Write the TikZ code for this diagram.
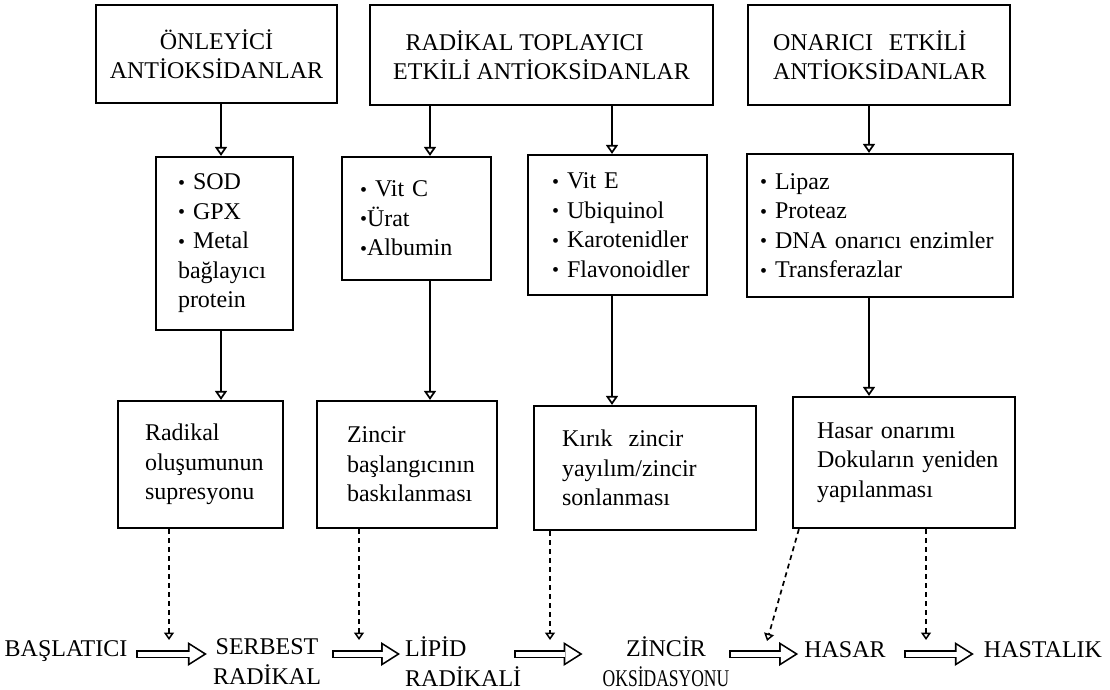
\documentclass[tikz,border=0pt]{standalone}
\usepackage{fontspec}
\setmainfont{Liberation Serif}
\usetikzlibrary{arrows.meta,positioning,calc}

\newcommand{\dotmark}{\raisebox{0.5pt}{\fontsize{20}{20}\selectfont\textbullet}}

\tikzset{
  box/.style={draw, line width=2.2pt, font=\fontsize{24}{29.5}\selectfont},
  listbox/.style={box, align=left, inner ysep=0pt,
    execute at begin node={\hyphenpenalty=10000\relax}},
  feed/.style={line width=2pt, -{Triangle[open, length=9pt, width=12pt, line width=1.7pt]}},
  hint/.style={line width=1.7pt, dash pattern=on 5pt off 4pt, -{Triangle[open, length=7.5pt, width=10pt, line width=1.5pt]}},
  hollow/.style={line width=8.5pt, -{Triangle[length=19pt, width=24pt, line width=0pt]},
    postaction={draw=white, line width=5pt, shorten <=1.7pt, shorten >=3.2pt,
      -{Triangle[length=14pt, width=17.8pt, line width=0pt]}}},
  rowtext/.style={font=\fontsize{24}{30}\selectfont, inner sep=0pt, align=center}
}

\begin{document}
\begin{tikzpicture}[x=1pt, y=-1pt]
  \useasboundingbox (0,0) rectangle (1110,690);

  % antioxidant groups
  \node[box, align=center, minimum width=241pt, minimum height=98pt] (prev) at (216.5,54) {ÖNLEYİCİ\\ANTİOKSİDANLAR};
  \node[box, align=center, minimum width=343pt, minimum height=100pt] (scav) at (541.5,55) {RADİKAL TOPLAYICI\hspace*{34pt}\\ETKİLİ ANTİOKSİDANLAR};
  \node[box, align=left, text width=212pt, inner xsep=25pt, minimum height=100pt] (repair) at (879,55) {ONARICI\ \ ETKİLİ\\ANTİOKSİDANLAR};

  % members
  \node[listbox, text width=93pt, inner xsep=22pt, minimum height=173pt] (enz) at (224.5,243.5) {\dotmark~SOD\\\dotmark~GPX\\\dotmark~Metal\\bağlayıcı\\protein};
  \node[listbox, text width=113pt, inner xsep=18pt, minimum height=123pt] (hydro) at (416.5,218.5) {\dotmark~Vit~C\\\dotmark Ürat\\\dotmark Albumin};
  \node[listbox, text width=131pt, inner xsep=24pt, minimum height=140pt] (lipo) at (617.5,225) {\dotmark~Vit~E\\\dotmark~Ubiquinol\\\dotmark~Karotenidler\\\dotmark~Flavonoidler};
  \node[listbox, text width=240pt, inner xsep=13pt, minimum height=143pt] (enzrep) at (880,225.5) {\dotmark~Lipaz\\\dotmark~Proteaz\\\dotmark~DNA~onarıcı~enzimler\\\dotmark~Transferazlar};

  % effects
  \node[listbox, text width=111pt, inner xsep=27pt, minimum height=127pt] (supp) at (200.5,464.5) {Radikal\\oluşumunun\\supresyonu};
  \node[listbox, text width=120pt, inner xsep=30pt, minimum height=127pt] (inhib) at (407,464.5) {Zincir\\başlangıcının\\baskılanması};
  \node[listbox, text width=166pt, inner xsep=28pt, minimum height=124pt] (brk) at (645,468) {Kırık\ \ zincir\\yayılım/zincir\\sonlanması};
  \node[listbox, text width=174pt, inner xsep=24pt, minimum height=131pt] (heal) at (904,462.5) {Hasar~onarımı\\Dokuların~yeniden\\yapılanması};

  % chain of events
  \coordinate (row) at (0,654);
  \node[rowtext] (ini) at (66,651) {BAŞLATICI};
  \node[rowtext] (free) at (267,662) {SERBEST\\RADİKAL};
  \node[rowtext, align=left, anchor=west] (lip) at (405,662) {LİPİD\\RADİKALİ};
  \node[rowtext] (chain) at (666,662) {ZİNCİR\\\scalebox{.73}[1]{OKSİDASYONU}};
  \node[rowtext] (dmg) at (845,650) {HASAR};
  \node[rowtext] (dis) at (1043,650) {HASTALIK};

  \draw[hollow] ($(ini.east |- row)+(8.5,0)$) -- ($(free.west |- row)+(-6,0)$);
  \draw[hollow] ($(free.east |- row)+(11,0)$) -- ($(lip.west |- row)+(-5,0)$);
  \draw[hollow] ($(lip.east |- row)+(-7,0)$) -- ($(chain.west |- row)+(-20,0)$);
  \draw[hollow] ($(chain.east |- row)+(0,0)$) -- ($(dmg.west |- row)+(-6,0)$);
  \draw[hollow] ($(dmg.east |- row)+(18,0)$) -- ($(dis.west |- row)+(-10,0)$);

  % solid feeds
  \coordinate (c1) at (221,0);
  \coordinate (c2) at (430,0);
  \coordinate (c3) at (612,0);
  \coordinate (c4) at (869,0);
  \draw[feed] (prev.south -| c1) -- (enz.north -| c1);
  \draw[feed] (enz.south -| c1) -- (supp.north -| c1);
  \draw[feed] (scav.south -| c2) -- (hydro.north -| c2);
  \draw[feed] (hydro.south -| c2) -- (inhib.north -| c2);
  \draw[feed] (scav.south -| c3) -- (lipo.north -| c3);
  \draw[feed] (lipo.south -| c3) -- (brk.north -| c3);
  \draw[feed] (repair.south -| c4) -- (enzrep.north -| c4);
  \draw[feed] (enzrep.south -| c4) -- (heal.north -| c4);

  % dashed hints
  \coordinate (t1) at (169,640);
  \coordinate (t2) at (359,640);
  \coordinate (t3) at (550,640);
  \coordinate (t4) at (767,641);
  \coordinate (t5) at (926,640);
  \draw[hint] (supp.south -| t1) -- (t1);
  \draw[hint] (inhib.south -| t2) -- (t2);
  \draw[hint] (brk.south -| t3) -- (t3);
  \draw[hint] ($(heal.south west)+(7,0)$) -- (t4);
  \draw[hint] (heal.south -| t5) -- (t5);
\end{tikzpicture}
\end{document}
